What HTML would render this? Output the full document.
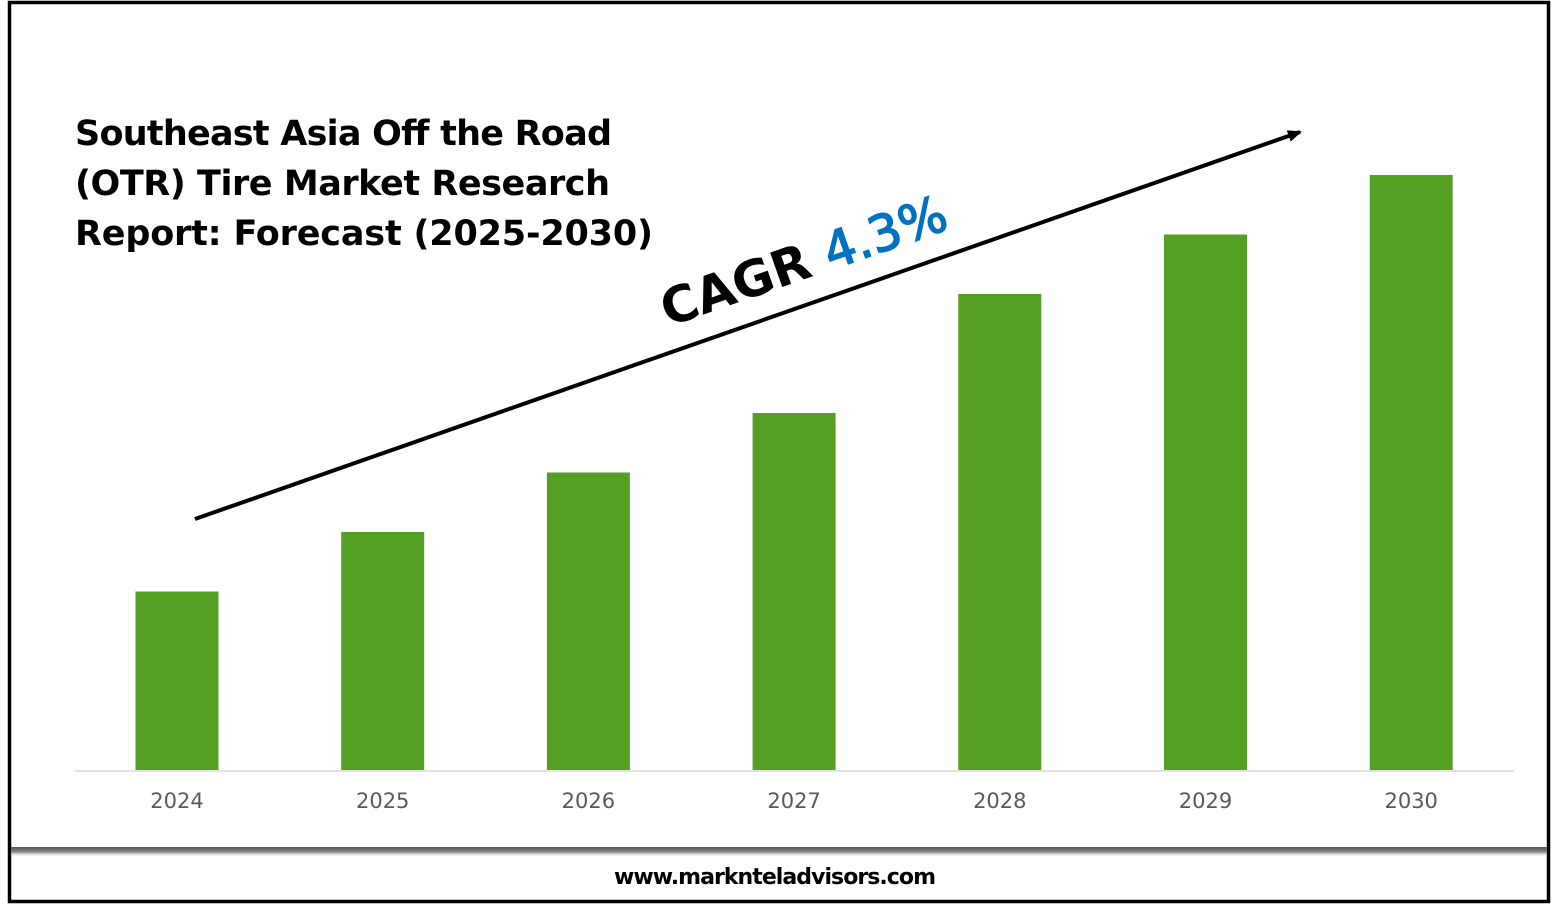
<!DOCTYPE html>
<html><head><meta charset="utf-8"><style>
html,body{margin:0;padding:0;background:#fff;width:1557px;height:906px;overflow:hidden}
svg{display:block}
</style></head><body>
<svg width="1557" height="906" viewBox="0 0 1557 906">
<defs>
<linearGradient id="sh" x1="0" y1="0" x2="0" y2="1">
<stop offset="0" stop-color="#555"/><stop offset="0.5" stop-color="#888"/><stop offset="1" stop-color="#fff" stop-opacity="0"/>
</linearGradient>
<marker id="ah" markerWidth="14" markerHeight="12" refX="12" refY="6" orient="auto" markerUnits="userSpaceOnUse"><path d="M0,0 L14,6 L0,12 z" fill="#000"/></marker>
</defs>
<rect x="9.5" y="2.5" width="1539" height="899" fill="#fff" stroke="#000" stroke-width="3.5"/>
<rect x="11" y="847" width="1536" height="10" fill="url(#sh)"/>
<text x="775" y="884" text-anchor="middle" font-family="'DejaVu Sans','Liberation Sans',sans-serif" font-weight="bold" font-size="22" textLength="322" fill="#000">www.marknteladvisors.com</text>
<g font-family="'DejaVu Sans','Liberation Sans',sans-serif" font-weight="bold" font-size="35" fill="#000">
<text x="75" y="145" textLength="537">Southeast Asia Off the Road</text>
<text x="75" y="195" textLength="535">(OTR) Tire Market Research</text>
<text x="75" y="245" textLength="578">Report: Forecast (2025-2030)</text>
</g>
<line x1="75" y1="771" x2="1514" y2="771" stroke="#d9d9d9" stroke-width="1.5"/>
<g id="bars"></g>
<g id="labels"></g>
<line x1="195" y1="519" x2="1300" y2="132" stroke="#000" stroke-width="4" marker-end="url(#ah)"/>
<text transform="translate(668,327) rotate(-19.3)" font-family="'DejaVu Sans','Liberation Sans',sans-serif" font-size="50"><tspan fill="#000" font-weight="bold">CAGR </tspan><tspan fill="#0070c0" stroke="#0070c0" stroke-width="1.5">4.3%</tspan></text>
</svg>
<script>
const categories=["2024","2025","2026","2027","2028","2029","2030"];
const values=[3.0,4.0,5.0,6.0,8.0,9.0,10.0];
const baseY=770, unit=59.5, x0=177, step=205.7, bw=83;
const yScale=v=>baseY-v*unit;
const xScale=i=>x0+i*step;
const ns="http://www.w3.org/2000/svg";
const gb=document.getElementById('bars'), gl=document.getElementById('labels');
categories.forEach((c,i)=>{
 const r=document.createElementNS(ns,'rect');
 r.setAttribute('x',xScale(i)-bw/2);
 r.setAttribute('y',yScale(values[i]));
 r.setAttribute('width',bw);
 r.setAttribute('height',baseY-yScale(values[i]));
 r.setAttribute('fill','#55a022');
 
 
 gb.appendChild(r);
 const t=document.createElementNS(ns,'text');
 t.setAttribute('x',xScale(i));
 t.setAttribute('y',808);
 t.setAttribute('text-anchor','middle');
 t.setAttribute('font-family',"'DejaVu Sans','Liberation Sans',sans-serif");
 t.setAttribute('font-size','21');
 t.setAttribute('fill','#595959');
 t.textContent=c;
 
 
 gl.appendChild(t);
});
</script>
</body></html>
